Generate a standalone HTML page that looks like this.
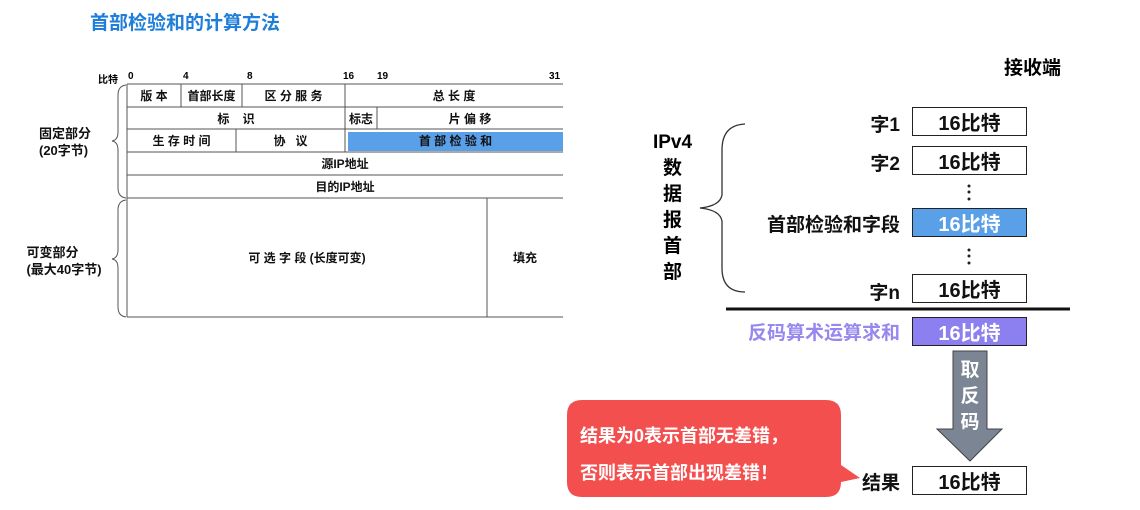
<!DOCTYPE html>
<html><head><meta charset="utf-8"><style>
body{margin:0;width:1140px;height:510px;background:#fff;position:relative;overflow:hidden;font-family:"Liberation Sans","Noto Sans CJK SC",sans-serif;font-weight:bold}
.a{position:absolute;white-space:nowrap}
.c{position:absolute;display:flex;align-items:center;justify-content:center;font-size:12px;color:#111;box-sizing:border-box}
.bx{position:absolute;left:912px;width:115px;height:29px;border:1.5px solid #222;box-sizing:border-box;display:flex;align-items:center;justify-content:center;font-size:20px;color:#111}
.lb{position:absolute;right:240px;font-size:19px;color:#111}
</style></head><body>
<div class="a" style="left:90px;top:8px;font-size:19px;color:#1e7ed8">首部检验和的计算方法</div>
<div class="a" style="left:98px;top:71px;font-size:10px">比特</div>
<div class="a" style="left:128px;top:71px;font-size:10px">0</div>
<div class="a" style="left:183px;top:71px;font-size:10px">4</div>
<div class="a" style="left:247px;top:71px;font-size:10px">8</div>
<div class="a" style="left:343px;top:71px;font-size:10px">16</div>
<div class="a" style="left:377px;top:71px;font-size:10px">19</div>
<div class="a" style="left:549px;top:71px;font-size:10px">31</div>
<svg class="a" style="left:0;top:0" width="1140" height="510">
<g stroke="#555" stroke-width="1" fill="none">
<line x1="127" y1="84" x2="563" y2="84"/><line x1="127" y1="107" x2="563" y2="107"/>
<line x1="127" y1="129" x2="563" y2="129"/><line x1="127" y1="152" x2="563" y2="152"/>
<line x1="127" y1="175" x2="563" y2="175"/><line x1="127" y1="198" x2="563" y2="198"/>
<line x1="127" y1="317" x2="563" y2="317"/>
<line x1="127" y1="84" x2="127" y2="317"/>
<line x1="181" y1="84" x2="181" y2="107"/><line x1="242" y1="84" x2="242" y2="107"/>
<line x1="345" y1="84" x2="345" y2="152"/><line x1="377" y1="107" x2="377" y2="129"/>
<line x1="236" y1="129" x2="236" y2="152"/><line x1="487" y1="198" x2="487" y2="317"/>
<path d="M126 85 Q118 86 118 95 L118 132 Q118 140 112 141 Q118 142 118 150 L118 188 Q118 197 126 198"/>
<path d="M126 200 Q118 201 118 210 L118 250 Q118 258 112 259 Q118 260 118 268 L118 307 Q118 316 126 317"/>
</g>
<rect x="348" y="132" width="215" height="19" fill="#5aa0e8"/>
<path d="M745 124 Q722 125 722 150 L722 195 Q720 206 700 208 Q720 210 722 221 L722 268 Q722 292 745 292" stroke="#333" stroke-width="1.3" fill="none"/>
<line x1="726" y1="309" x2="1070" y2="309" stroke="#111" stroke-width="3"/>
<g fill="#222"><circle cx="969" cy="186" r="1.5"/><circle cx="969" cy="192" r="1.5"/><circle cx="969" cy="199" r="1.5"/>
<circle cx="969" cy="250" r="1.5"/><circle cx="969" cy="256" r="1.5"/><circle cx="969" cy="263" r="1.5"/></g>
<path d="M953 351 L987 351 L987 429 L1002 429 L970 461 L937 429 L953 429 Z" fill="#7b8593" stroke="#444" stroke-width="1"/>
<path d="M582 400 L826 400 Q841 400 841 415 L841 465 L860 478 L841 482 Q841 497 826 497 L582 497 Q567 497 567 482 L567 415 Q567 400 582 400 Z" fill="#f44f4f"/>
</svg>
<div class="c" style="left:127px;top:84px;width:54px;height:23px">版 本</div>
<div class="c" style="left:181px;top:84px;width:61px;height:23px">首部长度</div>
<div class="c" style="left:242px;top:84px;width:103px;height:23px">区 分 服 务</div>
<div class="c" style="left:345px;top:84px;width:218px;height:23px">总 长 度</div>
<div class="c" style="left:127px;top:107px;width:218px;height:22px">标&nbsp;&nbsp;&nbsp;&nbsp;识</div>
<div class="c" style="left:345px;top:107px;width:32px;height:22px">标志</div>
<div class="c" style="left:377px;top:107px;width:186px;height:22px">片 偏 移</div>
<div class="c" style="left:127px;top:129px;width:109px;height:23px">生 存 时 间</div>
<div class="c" style="left:236px;top:129px;width:109px;height:23px">协&nbsp;&nbsp;&nbsp;议</div>
<div class="c" style="left:348px;top:129px;width:215px;height:23px">首 部 检 验 和</div>
<div class="c" style="left:127px;top:152px;width:436px;height:23px">源IP地址</div>
<div class="c" style="left:127px;top:175px;width:436px;height:23px">目的IP地址</div>
<div class="c" style="left:127px;top:198px;width:360px;height:119px">可 选 字 段 (长度可变)</div>
<div class="c" style="left:487px;top:198px;width:76px;height:119px">填充</div>
<div class="c" style="left:20px;top:124px;width:90px;height:36px;flex-direction:column;font-size:13px;line-height:17px">固定部分<br>(20字节)</div>
<div class="c" style="left:14px;top:243px;width:100px;height:36px;flex-direction:column;font-size:13px;line-height:17px">可变部分<br>(最大40字节)</div>
<div class="a" style="left:1004px;top:53px;font-size:19px">接收端</div>
<div class="a" style="left:650px;top:130px;width:45px;text-align:center;font-size:19px;line-height:26px">IPv4<br>数<br>据<br>报<br>首<br>部</div>
<div class="lb" style="top:110px">字1</div>
<div class="lb" style="top:149px">字2</div>
<div class="lb" style="top:210px">首部检验和字段</div>
<div class="lb" style="top:278px">字n</div>
<div class="lb" style="top:318px;color:#9688ee">反码算术运算求和</div>
<div class="lb" style="top:468px">结果</div>
<div class="bx" style="top:107px">16比特</div>
<div class="bx" style="top:146px">16比特</div>
<div class="bx" style="top:208px;background:#5aa0e8;color:#fff">16比特</div>
<div class="bx" style="top:274px">16比特</div>
<div class="bx" style="top:317px;background:#8c7ff0;color:#fff">16比特</div>
<div class="bx" style="top:466px">16比特</div>
<div class="a" style="left:956px;top:358px;width:28px;text-align:center;font-size:19px;line-height:26px;color:#fff">取<br>反<br>码</div>
<div class="a" style="left:580px;top:418px;font-size:18px;color:#fff;line-height:37px">结果为0表示首部无差错，<br>否则表示首部出现差错！</div>
</body></html>
